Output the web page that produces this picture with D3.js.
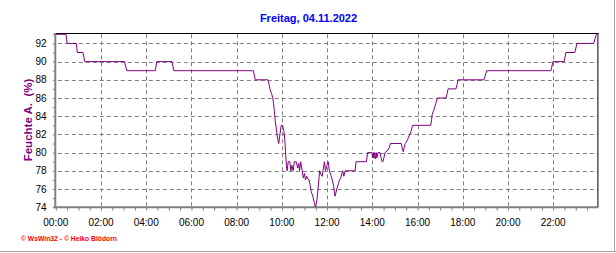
<!DOCTYPE html>
<html>
<head>
<meta charset="utf-8">
<script src="https://cdn.jsdelivr.net/npm/d3@7"></script>
<style>
  body { margin: 0; background: #fff; }
  text { font-family: "Liberation Sans", Arial, sans-serif; }
</style>
</head>
<body>
<div id="chart"></div>
<script>
// readings of the day, time in decimal hours
const hours = [
  0.00, 0.45, 0.50, 0.91, 0.95, 1.20, 1.28, 3.04, 3.14, 4.40, 4.47, 5.14, 5.22, 8.74, 8.82,
  9.39, 9.44, 9.48, 9.54, 9.60, 9.63, 9.67, 9.71, 9.76, 9.80, 9.86, 9.92, 9.97, 10.03, 10.09,
  10.13, 10.16, 10.20, 10.23, 10.28, 10.35, 10.40, 10.44, 10.50, 10.55, 10.63, 10.70, 10.75, 10.78,
  10.83, 10.90, 10.95, 11.00, 11.04, 11.10, 11.15, 11.20, 11.25, 11.30, 11.37, 11.43, 11.49, 11.55,
  11.61, 11.65, 11.67, 11.73, 11.78, 11.82, 11.88, 11.93, 11.99, 12.05, 12.10, 12.17, 12.23, 12.29,
  12.35, 12.38, 12.43, 12.50, 12.55, 12.60, 12.69, 12.74, 12.80, 12.88, 13.24, 13.28, 13.74, 13.79,
  13.98, 14.02, 14.04, 14.06, 14.09, 14.13, 14.17, 14.20, 14.25, 14.34, 14.38, 14.43, 14.47, 14.52,
  14.56, 14.70, 14.76, 14.80, 15.28, 15.32, 15.37, 15.41, 15.46, 15.56, 15.60, 15.66, 15.72, 15.78,
  16.58, 16.62, 16.65, 16.71, 16.76, 16.81, 16.88, 17.26, 17.31, 17.35, 17.70, 17.75, 17.79, 18.94,
  19.06, 21.90, 21.99, 22.49, 22.56, 22.96, 23.05, 23.79, 23.91, 23.95
];
const humidity = [
  93, 93, 92, 92, 91, 91, 90, 90, 89, 89, 90, 90, 89, 89, 88,
  88, 87.4, 86.9, 86.5, 86, 85.4, 84.5, 83.4, 82.5, 81.7, 81, 82.1, 83, 83, 82.3,
  81.4, 80.1, 78.6, 78, 79, 79, 78, 78.6, 78, 79, 79, 78.3, 78.8, 78,
  79, 78, 77.2, 77.7, 77, 77.4, 77.1, 77, 76.4, 75.7, 75.2, 74.5, 74, 74.8,
  76.3, 77.4, 78, 77.6, 77.4, 78, 79, 78, 78.6, 79, 78, 77.5, 77, 76.3,
  75.2, 75.5, 76, 76.6, 77, 77.2, 78, 77.4, 78, 78, 78, 79, 79, 80,
  80, 79.4, 80, 79.4, 80, 79.3, 80, 79.4, 80, 80, 79.5, 79, 79, 79.5,
  80, 80.3, 80.6, 81, 81, 80.5, 80.1, 80.6, 81, 81.4, 81.7, 82, 82.4, 83,
  83, 83.6, 84.2, 84.6, 85, 85.4, 86, 86, 86.5, 87, 87, 87.5, 88, 88,
  89, 89, 90, 90, 91, 91, 92, 92, 93, 93
];
const xTickHours = [0, 2, 4, 6, 8, 10, 12, 14, 16, 18, 20, 22];
const xTickLabels = ["00:00", "02:00", "04:00", "06:00", "08:00", "10:00", "12:00", "14:00", "16:00", "18:00", "20:00", "22:00"];
const yTicks = [74, 76, 78, 80, 82, 84, 86, 88, 90, 92];

const titleText = "Freitag, 04.11.2022";
const yLabel = "Feuchte A.  (%)";
const footer = "\u00a9 WsWin32  -  \u00a9 Heiko Blödorn";

const width = 616, height = 253;
const plotLeft = 55.8, plotRight = 598.4, plotTop = 34.3, plotBottom = 207.2;

const svg = d3.select("#chart").append("svg")
  .attr("width", width)
  .attr("height", height);

const x = d3.scaleLinear().domain([0, 24]).range([plotLeft, plotRight]);
const y = d3.scaleLinear().domain([74, 93]).range([plotBottom, plotTop]);

// outer frame (grey right / bottom edge)
svg.append("line").attr("x1", 0).attr("x2", width).attr("y1", 251.5).attr("y2", 251.5)
  .attr("stroke", "#a0a0a0");
svg.append("line").attr("x1", 614.5).attr("x2", 614.5).attr("y1", 0).attr("y2", 252)
  .attr("stroke", "#a0a0a0");

// grid
svg.append("g").selectAll("line.hgrid")
  .data(yTicks.filter(d => d > 74)).enter()
  .append("line")
  .attr("x1", plotLeft + 2).attr("x2", plotRight - 1)
  .attr("y1", d => Math.round(y(d)) + 0.5).attr("y2", d => Math.round(y(d)) + 0.5)
  .attr("stroke", "#808080")
  .attr("stroke-dasharray", "4,3");

svg.append("g").selectAll("line.vgrid")
  .data(xTickHours.filter(d => d > 0)).enter()
  .append("line")
  .attr("x1", d => Math.round(x(d)) + 0.5).attr("x2", d => Math.round(x(d)) + 0.5)
  .attr("y1", plotTop).attr("y2", plotBottom - 1)
  .attr("stroke", "#808080")
  .attr("stroke-dasharray", "4,3");

// borders
svg.append("line").attr("x1", plotLeft - 1).attr("x2", plotRight).attr("y1", 33.5).attr("y2", 33.5)
  .attr("stroke", "#000");
svg.append("line").attr("x1", plotRight - 0.5).attr("x2", plotRight - 0.5).attr("y1", 33).attr("y2", plotBottom)
  .attr("stroke", "#000");

// axes
const xAxis = d3.axisBottom(x)
  .tickValues(d3.range(0, 24, 0.5))
  .tickSize(3)
  .tickFormat("");
const gx = svg.append("g").attr("transform", `translate(0,${plotBottom + 0.5})`).call(xAxis);
gx.select(".domain").remove();
gx.selectAll(".tick line").attr("stroke", "#808080");
svg.append("line").attr("x1", plotLeft - 2).attr("x2", plotRight).attr("y1", plotBottom).attr("y2", plotBottom)
  .attr("stroke", "#808080").attr("stroke-width", 2);

const yAxis = d3.axisLeft(y)
  .tickValues(d3.range(74, 94, 1))
  .tickSize(2)
  .tickFormat("");
const gy = svg.append("g").attr("transform", `translate(${plotLeft - 1},0)`).call(yAxis);
gy.select(".domain").remove();
gy.selectAll(".tick line").attr("stroke", "#808080");
svg.append("line").attr("x1", plotLeft - 0.5).attr("x2", plotLeft - 0.5).attr("y1", 33).attr("y2", plotBottom + 1)
  .attr("stroke", "#808080").attr("stroke-width", 2);

// tick labels
svg.append("g").selectAll("text.xlabel")
  .data(xTickHours).enter()
  .append("text")
  .attr("x", d => x(d))
  .attr("y", 225.5)
  .attr("text-anchor", "middle")
  .style("font-size", "10px")
  .attr("fill", "#000")
  .text((d, i) => xTickLabels[i]);

svg.append("g").selectAll("text.ylabel")
  .data(yTicks).enter()
  .append("text")
  .attr("x", 46.5)
  .attr("y", d => y(d) + 3.6)
  .attr("text-anchor", "end")
  .style("font-size", "10px")
  .attr("fill", "#000")
  .text(d => d);

// humidity line
const points = hours.map((h, i) => [h, humidity[i]]);
svg.append("path")
  .datum(points)
  .attr("fill", "none")
  .attr("stroke", "#800080")
  .attr("stroke-width", 1)
  .attr("d", d3.line().x(d => x(d[0])).y(d => y(d[1])));

// title
svg.append("text")
  .attr("x", 308.5)
  .attr("y", 22)
  .attr("text-anchor", "middle")
  .style("font-size", "11px")
  .style("font-weight", "bold")
  .attr("fill", "#0000ff")
  .text(titleText);

// y label
svg.append("text")
  .attr("transform", "translate(31.5,120) rotate(-90)")
  .attr("text-anchor", "middle")
  .style("font-size", "11.5px")
  .style("font-weight", "bold")
  .style("white-space", "pre")
  .attr("fill", "#800080")
  .text(yLabel);

// footer
svg.append("text")
  .attr("x", 21)
  .attr("y", 240.5)
  .style("font-size", "7px")
  .style("font-weight", "bold")
  .attr("textLength", 96)
  .attr("lengthAdjust", "spacingAndGlyphs")
  .attr("fill", "#ff0000")
  .text(footer);
</script>
</body>
</html>
